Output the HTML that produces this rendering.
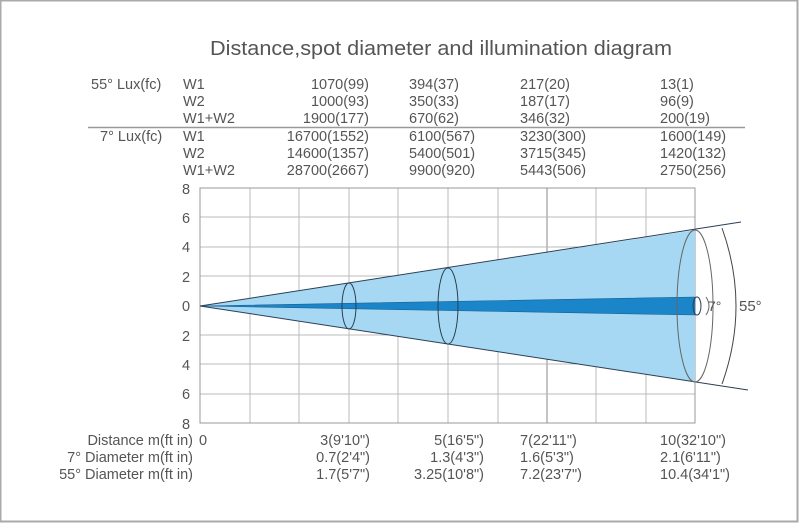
<!DOCTYPE html>
<html><head><meta charset="utf-8"><style>
html,body{margin:0;padding:0;background:#fff}
svg{display:block}
text{font-family:"Liberation Sans",sans-serif;fill:#555;font-size:14.5px}
</style></head><body>
<svg width="800" height="523" viewBox="0 0 800 523">
<rect x="0.5" y="0.5" width="797" height="521" fill="#fff" stroke="#aaa" stroke-width="2"/>
<text x="441" y="55" text-anchor="middle" style="font-size:20px" textLength="462" lengthAdjust="spacingAndGlyphs">Distance,spot diameter and illumination diagram</text>
<g>
<text x="91" y="89">55°  Lux(fc)</text>
<text x="183" y="89">W1</text><text x="183" y="106">W2</text><text x="183" y="123">W1+W2</text>
<text x="369" y="89" text-anchor="end">1070(99)</text>
<text x="369" y="106" text-anchor="end">1000(93)</text>
<text x="369" y="123" text-anchor="end">1900(177)</text>
<text x="409" y="89">394(37)</text><text x="409" y="106">350(33)</text><text x="409" y="123">670(62)</text>
<text x="520" y="89">217(20)</text><text x="520" y="106">187(17)</text><text x="520" y="123">346(32)</text>
<text x="660" y="89">13(1)</text><text x="660" y="106">96(9)</text><text x="660" y="123">200(19)</text>
<line x1="88" y1="127.5" x2="745" y2="127.5" stroke="#999" stroke-width="1.5"/>
<text x="100" y="141">7°  Lux(fc)</text>
<text x="183" y="141">W1</text><text x="183" y="158">W2</text><text x="183" y="175">W1+W2</text>
<text x="369" y="141" text-anchor="end">16700(1552)</text>
<text x="369" y="158" text-anchor="end">14600(1357)</text>
<text x="369" y="175" text-anchor="end">28700(2667)</text>
<text x="409" y="141">6100(567)</text><text x="409" y="158">5400(501)</text><text x="409" y="175">9900(920)</text>
<text x="520" y="141">3230(300)</text><text x="520" y="158">3715(345)</text><text x="520" y="175">5443(506)</text>
<text x="660" y="141">1600(149)</text><text x="660" y="158">1420(132)</text><text x="660" y="175">2750(256)</text>
</g>
<g stroke="#bbb" stroke-width="1">
<line x1="250" y1="188" x2="250" y2="423"/><line x1="299" y1="188" x2="299" y2="423"/>
<line x1="349" y1="188" x2="349" y2="423"/><line x1="398" y1="188" x2="398" y2="423"/>
<line x1="448" y1="188" x2="448" y2="423"/><line x1="498" y1="188" x2="498" y2="423"/>
<line x1="547" y1="188" x2="547" y2="423" stroke="#888"/><line x1="596" y1="188" x2="596" y2="423"/>
<line x1="646" y1="188" x2="646" y2="423"/>
<line x1="200" y1="217" x2="695" y2="217"/><line x1="200" y1="247" x2="695" y2="247"/>
<line x1="200" y1="276" x2="695" y2="276"/><line x1="200" y1="306" x2="695" y2="306"/>
<line x1="200" y1="335" x2="695" y2="335"/><line x1="200" y1="364" x2="695" y2="364"/>
<line x1="200" y1="394" x2="695" y2="394"/>
</g>
<rect x="200" y="188" width="495" height="235" fill="none" stroke="#999"/>
<polygon points="200,306 695,230 695,382" fill="#a6d8f4"/>
<polygon points="200,306 695,297 695,315" fill="#1a86c9" stroke="#1b5f8f" stroke-width="0.6"/>
<g fill="none" stroke="#2a3f55" stroke-width="1">
<line x1="200" y1="306" x2="741" y2="222"/>
<line x1="200" y1="306" x2="748" y2="390"/>
<ellipse cx="349" cy="306" rx="7" ry="23"/>
<ellipse cx="448" cy="306" rx="10" ry="38"/>
<ellipse cx="695" cy="306" rx="18" ry="76" stroke="#666"/>
<ellipse cx="697" cy="306" rx="4" ry="9"/>
<path d="M706 297 Q712 306 706 315" stroke="#666"/>
<path d="M722 228 Q750 306 722 384" stroke="#444"/>
</g>
<text x="708" y="311" style="font-size:14px">7°</text>
<text x="739" y="311" style="font-size:15px">55°</text>
<g style="font-size:15px" text-anchor="middle">
<text x="186" y="194">8</text><text x="186" y="223">6</text><text x="186" y="252">4</text>
<text x="186" y="282">2</text><text x="186" y="311">0</text><text x="186" y="341">2</text>
<text x="186" y="370">4</text><text x="186" y="399">6</text><text x="186" y="429">8</text>
</g>
<text x="193" y="445" text-anchor="end">Distance  m(ft in)</text>
<text x="193" y="462" text-anchor="end">7°  Diameter  m(ft in)</text>
<text x="193" y="479" text-anchor="end">55°  Diameter  m(ft in)</text>
<text x="199" y="445">0</text>
<text x="370" y="445" text-anchor="end">3(9'10")</text>
<text x="370" y="462" text-anchor="end">0.7(2'4")</text>
<text x="370" y="479" text-anchor="end">1.7(5'7")</text>
<text x="484" y="445" text-anchor="end">5(16'5")</text>
<text x="484" y="462" text-anchor="end">1.3(4'3")</text>
<text x="484" y="479" text-anchor="end">3.25(10'8")</text>
<text x="520" y="445">7(22'11")</text>
<text x="520" y="462">1.6(5'3")</text>
<text x="520" y="479">7.2(23'7")</text>
<text x="660" y="445">10(32'10")</text>
<text x="660" y="462">2.1(6'11")</text>
<text x="660" y="479">10.4(34'1")</text>
</svg>
</body></html>
